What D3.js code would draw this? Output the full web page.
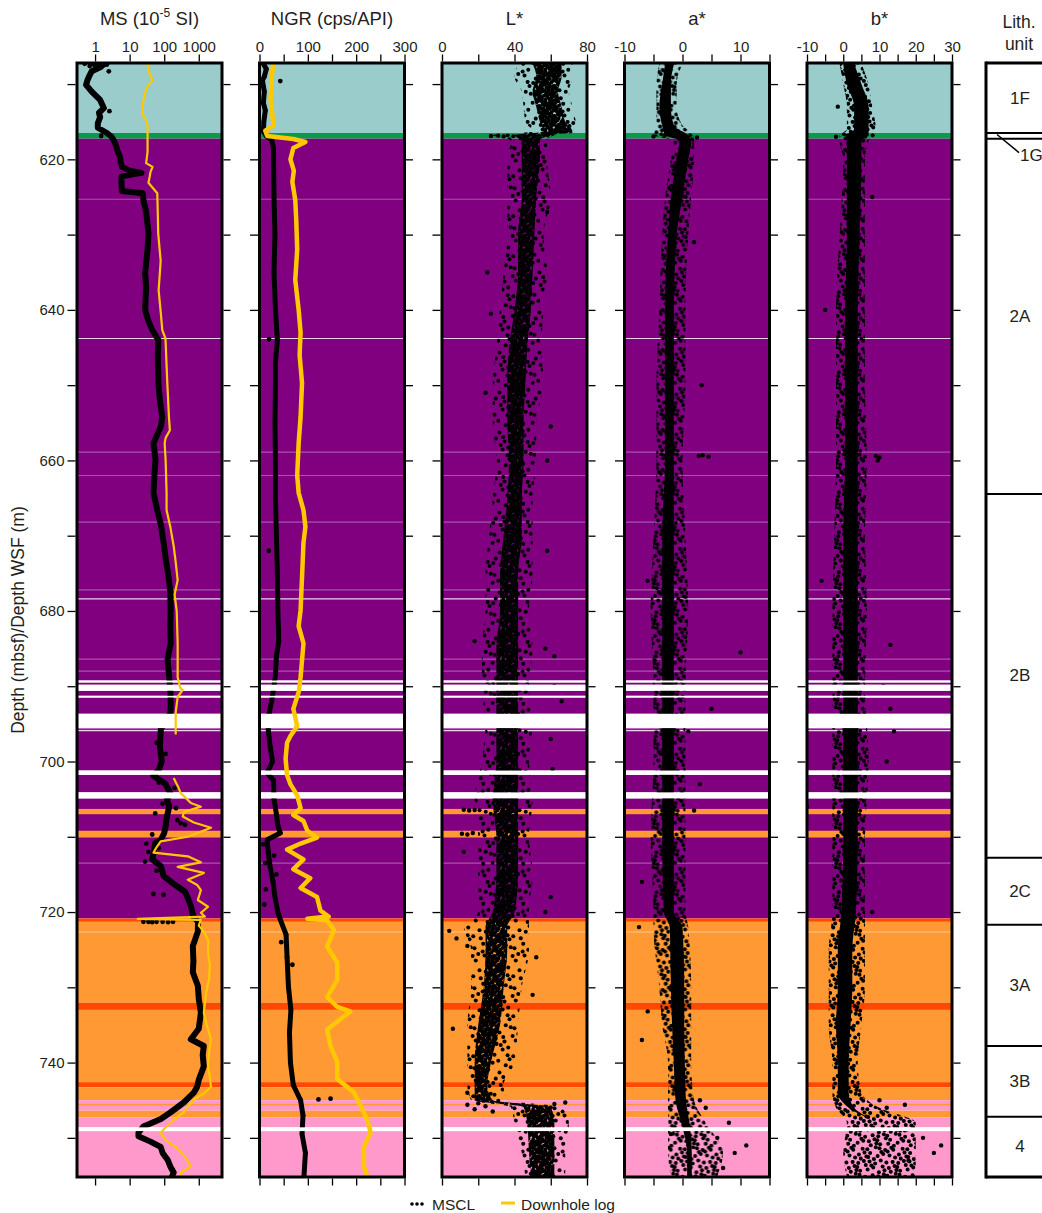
<!DOCTYPE html>
<html><head><meta charset="utf-8">
<script src="https://cdn.jsdelivr.net/npm/d3@7"></script>
<style>
body{margin:0;background:#fff}
svg{display:block}
text{font-family:"Liberation Sans",Arial,Helvetica,sans-serif;fill:#231f20}
</style>
</head><body>
<svg id="c" width="1042" height="1213"></svg>
<script>
// ---------------- DATA ----------------
const depthDomain = [607.2, 755.2];
const depthTicks = d3.range(610, 751, 10);
const depthLabels = [620, 640, 660, 680, 700, 720, 740];

const msDomain = [0.3, 4700];
const msTicks = [1, 10, 100, 1000];
const ngrDomain = [0, 300];
const ngrTicks = [0, 50, 100, 150, 200, 250, 300];
const ngrLabels = [0, 100, 200, 300];
const lDomain = [0, 80];
const lTicks = [0, 20, 40, 60, 80];
const lLabels = [0, 40, 80];
const aDomain = [-10, 15];
const aTicks = [-10, -5, 0, 5, 10, 15];
const aLabels = [-10, 0, 10];
const bDomain = [-10, 30];
const bTicks = [-10, -5, 0, 5, 10, 15, 20, 25, 30];
const bLabels = [-10, 0, 10, 20, 30];

// background lithology / core intervals [top, bottom, class]
const bgIntervals = [
  [607.2,616.5,"teal"],[616.5,617.25,"green"],[617.25,720.85,"purple"],[720.85,721.3,"red"],
  [721.3,732.05,"orange"],[732.05,733.0,"red"],[733.0,742.6,"orange"],[742.6,743.3,"red"],
  [743.3,745.0,"orange"],[745.0,745.4,"pink"],[745.4,745.75,"orange"],[745.75,746.4,"pink"],
  [746.4,747.3,"orange"],[747.3,755.2,"pink"],
  [689.24,689.5,"gap"],[689.8,690.6,"gap"],[691.27,691.5,"gap"],[693.66,695.56,"gap"],
  [701.2,701.77,"gap"],[704.1,704.9,"gap"],[706.3,707.0,"orange"],[709.2,710.1,"orange"],
  [748.6,749.1,"gap"]
];
const bgLines = [
  [625.3,"pale"],[643.8,"bright"],[658.9,"pale"],[662.0,"pale"],[668.2,"pale"],[677.2,"pale"],
  [678.4,"bright"],[686.4,"pale"],[688.0,"pale"],[695.65,"pinkline"],[695.9,"bright"],
  [713.5,"pale"],[722.65,"lightorange"]
];

// MS (10^-5 SI): MSCL and downhole log [depth, value]
const msMSCL = [
[607.3,0.9],[607.7,1.5],[608.3,0.8],[608.8,0.7],[609.5,0.6],[610.1,0.55],[611.0,0.8],[612.1,1.4],[613.2,1.8],
[613.8,1.3],[614.4,1.4],[615.2,1.2],[615.8,1.2],[616.5,2.2],[617.0,3.0],[617.4,3.4],[618.1,4.0],[618.8,4.4],
[619.7,5.3],[620.3,5.5],[621.0,6.0],[621.5,10],[621.8,22],[622.0,12],[622.3,5.8],[623.1,5.8],[624.2,6.0],
[624.5,24],[625.4,25],[627.0,30],[629.8,35],[632.0,33],[635.1,28],[637.0,30],[640.0,28],[641.5,35],
[642.7,45],[644.0,68],[646.0,65],[649.7,68],[652.0,75],[654.2,88],[655.5,80],[656.8,60],[657.7,49],
[659.9,56],[662.0,52],[664.3,49],[666.6,63],[668.5,80],[670.9,96],[673.0,110],[675.5,134],[677.5,150],
[679.9,154],[682.0,150],[684.3,154],[686.5,125],[688.8,140],[690.5,150],[692.5,155],[693.6,150],
[695.7,80],[698.0,75],[700.0,85],[701.1,70],[701.9,48],[703.0,110],[704.2,150],[705.1,120],[706.0,140],
[707.3,120],[708.6,110],[709.5,100],[710.4,80],[710.8,55],[712.1,50],[713.0,45],[713.9,80],[715.2,96],
[716.2,180],[717.3,400],[718.3,500],[719.2,590],[720.0,650],[720.6,700],[721.3,950],[722.6,940],
[724.5,673],[726.5,700],[728.0,673],[729.8,940],[731.5,1000],[733.4,1150],[735.5,1000],[736.9,590],
[737.8,1400],[739.0,1300],[740.5,1400],[742.3,1000],[743.2,900],[744.0,720],[745.3,368],[746.6,154],
[747.5,80],[748.5,25],[749.3,18],[749.8,18],[750.5,40],[751.2,79],[752.0,90],[752.9,125],[753.8,150],
[754.6,188],[755.1,170]
];
const msOut = [
[607.3,0.5],[607.4,2.2],[607.5,1.8],[607.6,0.7],[608.3,2.5],[613.6,2.6],[616.9,1.5],
[697.5,60],[699.0,110],[702.8,70],[703.5,200],[705.6,90],[706.2,220],[706.9,55],[707.8,240],[708.2,300],
[708.4,400],[709.7,45],[710.9,30],[711.5,70],[712.0,35],[713.3,28],[714.5,60],[717.6,49],[717.7,96],
[721.3,25],[721.3,35],[721.35,45],[721.3,60],[721.3,90],[721.35,130],[721.3,180]
];
const msLog = [
[607.3,33],[608.2,35],[609.5,46],[610.3,33],[611.2,28],[612.1,25],[613.3,24],[614.0,23],[614.8,30],
[615.5,33],[616.5,33],[617.4,33],[619.0,33],[620.5,30],[621.0,46],[621.7,40],[622.3,38],[623.1,35],
[624.5,63],[627.0,65],[629.8,67],[633.5,79],[637.4,69],[640.5,80],[642.7,88],[643.8,109],[646.5,115],
[649.7,123],[654.2,137],[656.0,146],[657.0,110],[657.7,103],[660.0,110],[664.3,117],[666.6,117],
[668.8,150],[671.4,188],[673.5,215],[675.9,245],[677.8,200],[680.0,230],[684.3,245],[688.8,245],
[690.2,290],[690.5,344],[691.4,245],[693.5,215],[696.4,215],[null,null],
[702.2,188],[703.5,260],[704.2,300],[705.5,590],[706.0,1150],[706.7,370],[707.3,344],[708.1,720],
[708.8,2260],[710.0,480],[710.6,79],[711.4,60],[712.1,49],[712.6,480],[713.4,1150],[714.0,245],
[714.8,1400],[715.7,480],[716.4,900],[717.1,1150],[718.4,940],[719.3,1850],[720.1,1150],[720.6,1500],
[720.9,17],[721.05,1150],[721.8,1000],[722.6,1400],[723.8,1900],[725.3,1850],[727.0,2100],[728.9,1980],
[731.0,1600],[733.4,1400],[735.0,1700],[736.9,2260],[738.5,2000],[740.5,1850],[742.0,2100],[743.2,2260],
[744.0,1500],[744.9,720],[745.8,500],[746.6,368],[747.5,200],[748.5,117],[749.3,79],[750.3,110],
[751.2,215],[752.5,400],[753.8,590],[754.6,300],[755.1,280]
];

// NGR (cps/API)
const ngrMSCL = [
[607.3,8],[608.0,14],[609.0,10],[609.5,6],[611.0,10],[612.5,8],[613.5,12],[615.0,9],[616.3,8],[616.9,14],
[617.4,25],[618.5,29],[620.0,29],[625.0,30],[630.0,32],[635.0,30],[640.0,33],[644.0,37],[647.0,33],
[650.0,33],[655.0,32],[660.0,33],[665.0,33],[670.0,35],[675.0,37],[680.0,38],[684.0,40],[686.0,35],
[688.5,33],[690.0,30],[692.0,25],[693.6,20],[695.7,18],[698.0,22],[700.0,27],[701.5,16],[702.5,29],
[705.0,30],[707.0,35],[708.5,38],[709.5,43],[710.4,16],[712.0,18],[714.0,22],[716.0,28],[718.0,32],
[720.0,38],[721.0,43],[723.0,55],[726.0,57],[730.0,60],[733.0,65],[736.0,62],[740.0,64],[743.0,70],
[745.0,85],[747.0,90],[749.5,88],[752.0,95],[755.1,92]
];
const ngrOut = [[609.6,43],[643.9,20],[672.0,19],[711.0,8],[712.5,30],[713.5,12],[715.0,35],[717.0,13],
[719.0,10],[724.0,45],[727.0,68],[744.9,122],[744.8,147]];
const ngrLog = [
[607.3,29],[608.0,27],[609.7,25],[612.0,23],[614.4,27],[615.5,29],[616.2,12],[616.9,16],[617.3,70],
[617.7,95],[618.5,70],[620.0,64],[621.5,71],[623.0,68],[625.4,74],[628.0,76],[632.0,78],[636.0,74],
[640.0,81],[643.0,85],[646.0,83],[649.7,88],[654.2,85],[657.7,81],[662.0,78],[664.3,81],[666.6,91],
[668.8,95],[670.9,91],[675.5,88],[679.9,85],[682.0,81],[684.3,91],[688.8,85],[690.8,81],[693.0,70],
[695.3,78],[696.6,64],[697.5,57],[699.6,54],[701.8,57],[703.0,64],[704.5,78],[706.2,85],[707.1,70],
[707.9,91],[709.2,99],[710.1,119],[710.9,85],[711.7,57],[713.0,91],[714.3,70],[715.5,105],[716.8,85],
[718.0,119],[719.8,126],[720.6,143],[720.9,99],[721.1,140],[722.4,154],[724.6,140],[726.7,161],
[729.0,161],[731.3,140],[732.6,161],[733.2,188],[734.2,168],[735.6,140],[737.8,147],[739.9,161],
[742.2,161],[743.9,195],[745.7,209],[747.6,223],[749.3,230],[751.2,216],[753.8,216],[755.1,223]
];

// Colour reflectance MSCL clouds: [depth, coreLo, coreHi, spreadLo, spreadHi]
const lStar = [
[607.3,50,66,42,72],[609,52,66,40,72],[611,50,64,44,70],[613,52,66,45,72],[615,54,68,46,74],
[616.3,56,72,50,76],[616.8,40,60,28,62],[617.5,44,54,38,58],[620,44,54,36,58],[625,44,52,36,60],
[630,42,51,36,56],[635,42,50,34,58],[640,40,49,32,56],[645,37,47,30,55],[650,36,46,28,56],
[655,36,45,28,52],[660,37,45,30,52],[665,36,44,28,50],[670,34,44,26,50],[675,32,42,24,50],
[680,32,42,24,48],[685,30,42,22,50],[690,30,42,22,48],[695,30,42,24,50],[700,30,42,22,48],
[705,28,42,18,50],[710,30,42,20,48],[715,30,42,20,50],[720,28,40,20,48],[722,24,36,12,48],
[725,24,36,16,48],[730,23,34,16,44],[735,20,32,14,42],[740,18,27,14,40],[743,18,25,14,34],
[745,18,28,16,36],[745.9,45,60,38,66],[748,47,62,40,70],[752,48,62,44,68],[755.1,49,62,46,68]
];
const aStar = [
[607.3,-3,-1.5,-4,0],[610,-3.5,-2,-4.5,-1],[613,-4,-2,-4.5,-1],[615.5,-3.5,-1.5,-4.5,0],
[616.8,-3,1,-5,2],[617.5,-0.5,1.5,-1.5,2],[620,-1,1,-2,2],[625,-2,0,-3,1.5],[630,-2.5,-1,-3.5,1],
[640,-3,-1.5,-4,0.5],[650,-3,-1.5,-4.5,0.5],[660,-3,-1.5,-4.5,0],[670,-3.5,-1.5,-5,0.5],
[680,-3.5,-1.5,-5.5,1],[690,-3.5,-1.5,-5,0.5],[700,-3.5,-1.5,-5,0.5],[710,-3.5,-1.5,-5.5,0.5],
[720,-3.2,-1.5,-5,0.5],[722,-2.2,0,-5,1],[730,-2,0.3,-4,1.5],[735,-1.8,0.3,-3.5,1.5],[740,-1.5,0.4,-2.5,1.5],
[745,-1.2,0.6,-2.5,2],[748,-0.2,1.2,-2.5,4],[752,0.8,1.6,-2.5,7],[755.1,0.8,1.6,-2,6]
];
const bStar = [
[607.3,0,3,-1,5],[610,1,5,0,7],[613,3,7,1,8],[616,3,7,1,9],[616.8,1,7,-1,9],[617.5,1,5,-1,7],
[620,1,5,0,6],[630,1,4.5,-1,6],[640,0.5,4,-2,6],[650,0.5,4,-2,6],[660,0.5,4,-2,6.5],[670,0,4,-2.5,6],
[680,0,4,-3,6.5],[690,0,4,-3,6],[700,0,4,-3,7],[710,0,4,-3,6],[720,-0.5,3.5,-3,6],[725,-1.5,2.5,-4,6],
[730,-1.5,2.5,-4,6],[735,-2,2,-4,5],[740,-1.5,1.5,-3,4],[744,-1.5,1.5,-3,5],[746,1.5,3,-2,10],[748,8,8,1,20],
[752,9,9,0,20],[755.1,8,8,1,20]
];
const lOut = [
[616.9,27],[616.85,31],[616.95,34],[627,58],[635,25],[640.5,27],[651,24],[655.5,60],[660,58],[672,58],
[684,18],[685,57],[686,62],[690,62],[692,66],[697,60],[701,61],[706.4,12],[706.5,15],[706.45,18],
[709.6,11],[709.7,14],[709.5,17],[712,12],[718,60],[720,57],[722.5,4],[723.5,8],[724.5,14],[726,52],
[731,50],[735.5,6],[737.5,30],[744,14],[745.4,20],[745.6,14],[745.8,24],[746.2,18],[746.5,28],
[745.5,62],[745.3,68]
];
const aOut = [
[616.95,-5],[617.1,2.5],[631,2],[650,3.3],[659.3,3.5],[659.5,4.5],[659.4,2.8],[676,-6],[685.5,10],
[693,5],[696,1],[703,3],[706.5,2],[716,-7],[722,-7.5],[733.2,-6],[737,-7],[745,3],[746,4],[748,8],
[750,6],[752,9],[754,7],[749.5,-2],[751,11]
];
const bOut = [
[613,-1.5],[617,-2],[625,8],[640,-5],[659.4,9],[659.6,10],[660,9.5],[676,-6],[684.5,13],[690,11],
[693,13],[696,14],[700,12],[706,-10],[720,8],[745,10],[745.6,17],[746,12],[750,22],[752,25],[753,18],
[751,27],[749,17]
];

const lithUnits = [
["1F",607.2,616.5],["1G",616.5,617.25],["2A",617.25,664.45],["2B",664.45,712.8],
["2C",712.8,721.7],["3A",721.7,737.8],["3B",737.8,747.2],["4",747.2,755.2]
];

// ---------------- STYLE ----------------
const bgColor = {teal:"#9acccc",green:"#0a9a48",purple:"#800080",red:"#ff4800",orange:"#ff9933",pink:"#ff99cc",gap:"#ffffff"};
const lineColor = {pale:"#a456aa",bright:"#e8d2e8",pinkline:"#c868ca",lightorange:"#ffc890"};
const YELLOW = "#ffc800";
const FONT_TICK = "15px", FONT_TITLE = "18.5px";

const svg = d3.select("#c");
const defs = svg.append("defs");
// stippled fill tiles (low-discrepancy dot placement, purely a texture style)
function halton(i, b){ let f=1, r=0; while(i>0){ f/=b; r+=f*(i%b); i=Math.floor(i/b);} return r; }
function dotTile(id, size, n, r){
  const p = defs.append("pattern").attr("id",id).attr("patternUnits","userSpaceOnUse")
    .attr("width",size).attr("height",size);
  for (let k=1;k<=n;k++){
    const cx = halton(k+7,2)*size, cy = halton(k+7,3)*size;
    for (const dx of [-size,0,size]) for (const dy of [-size,0,size])
      p.append("circle").attr("cx",cx+dx).attr("cy",cy+dy).attr("r",r).attr("fill","#000");
  }
}
dotTile("sparse", 40, 30, 2.0);
dotTile("medium", 40, 60, 2.0);
dotTile("dense", 30, 125, 2.0);

const TOP = 63, BOT = 1177, PW = 145;
const y = d3.scaleLinear().domain(depthDomain).range([TOP, BOT]);

function cloud(data, outl, outerFill, innerFill){
  return (body, x) => {
    const outer = d3.area().y(d=>y(d[0])).x0(d=>x(d[3])).x1(d=>x(d[4])).curve(d3.curveMonotoneY);
    const inner = d3.area().y(d=>y(d[0])).x0(d=>x(d[1])).x1(d=>x(d[2])).curve(d3.curveMonotoneY);
    body.append("path").attr("d",outer(data)).attr("fill",outerFill);
    body.append("path").attr("d",inner(data)).attr("fill",innerFill);
    body.selectAll("circle.o").data(outl).join("circle").attr("class","o")
      .attr("cx",d=>x(d[1])).attr("cy",d=>y(d[0])).attr("r",2.2).attr("fill","#000");
  };
}
function mscl(data, outl, w){
  return (body, x) => {
    const line = d3.line().x(d=>x(d[1])).y(d=>y(d[0]));
    body.append("path").attr("d",line(data)).attr("fill","none").attr("stroke","#000")
      .attr("stroke-width",w).attr("stroke-linejoin","round").attr("stroke-linecap","round");
    body.selectAll("circle.m").data(data.concat(outl)).join("circle").attr("class","m")
      .attr("cx",d=>x(d[1])).attr("cy",d=>y(d[0])).attr("r",2.4).attr("fill","#000");
  };
}
function logLine(data, w){
  return (body, x) => {
    const line = d3.line().defined(d=>d[0]!=null).x(d=>x(d[1])).y(d=>y(d[0]));
    body.append("path").attr("d",line(data)).attr("fill","none").attr("stroke",YELLOW)
      .attr("stroke-width",w).attr("stroke-linejoin","round");
  };
}

const panels = [
  {title:"MS", scale:d3.scaleLog().domain(msDomain), ticks:msTicks, labels:msTicks,
   draw:mscl(msMSCL, msOut, 6), log:logLine(msLog, 2.2)},
  {title:"NGR (cps/API)", scale:d3.scaleLinear().domain(ngrDomain), ticks:ngrTicks, labels:ngrLabels,
   draw:mscl(ngrMSCL, ngrOut, 5), log:logLine(ngrLog, 4.5)},
  {title:"L*", scale:d3.scaleLinear().domain(lDomain), ticks:lTicks, labels:lLabels,
   draw:cloud(lStar, lOut, "url(#sparse)", "url(#dense)")},
  {title:"a*", scale:d3.scaleLinear().domain(aDomain), ticks:aTicks, labels:aLabels,
   draw:cloud(aStar, aOut, "url(#medium)", "#000")},
  {title:"b*", scale:d3.scaleLinear().domain(bDomain), ticks:bTicks, labels:bLabels,
   draw:cloud(bStar, bOut, "url(#medium)", "#000")}
];

function styleAxis(g){
  g.select(".domain").remove();
  g.selectAll(".tick line").attr("stroke","#000").attr("stroke-width",1.3);
  g.selectAll(".tick text").attr("font-size",FONT_TICK).attr("fill","#231f20")
    .attr("font-family",'"Liberation Sans",Arial,sans-serif');
}

panels.forEach((p,i)=>{
  const left = 77 + i*182.5;
  const g = svg.append("g").attr("transform",`translate(${left},0)`);
  const x = p.scale.range([0,PW]);
  const cid = "clip"+i;
  defs.append("clipPath").attr("id",cid).append("rect")
    .attr("x",0).attr("y",TOP).attr("width",PW).attr("height",BOT-TOP);
  const body = g.append("g").attr("clip-path",`url(#${cid})`);

  body.selectAll("rect.bg").data(bgIntervals).join("rect").attr("class","bg")
    .attr("x",0).attr("width",PW).attr("y",d=>y(d[0]))
    .attr("height",d=>Math.max(0.6,y(d[1])-y(d[0]))).attr("fill",d=>bgColor[d[2]]);
  body.selectAll("line.bl").data(bgLines).join("line").attr("class","bl")
    .attr("x1",0).attr("x2",PW).attr("y1",d=>y(d[0])).attr("y2",d=>y(d[0]))
    .attr("stroke",d=>lineColor[d[1]]).attr("stroke-width",1.2);

  p.draw(body, x);

  body.selectAll("rect.gapc").data(bgIntervals.filter(d=>d[2]==="gap")).join("rect").attr("class","gapc")
    .attr("x",0).attr("width",PW).attr("y",d=>y(d[0]))
    .attr("height",d=>Math.max(0.6,y(d[1])-y(d[0]))).attr("fill","#fff");

  if (p.log) p.log(body, x);

  g.append("rect").attr("x",0).attr("y",TOP).attr("width",PW).attr("height",BOT-TOP)
    .attr("fill","none").attr("stroke","#000").attr("stroke-width",3);

  const fmt = d => p.labels.includes(d) ? String(d) : "";
  g.append("g").attr("transform",`translate(0,${TOP-1.5})`)
    .call(d3.axisTop(x).tickValues(p.ticks).tickSize(7).tickPadding(3).tickFormat(fmt)).call(styleAxis);
  g.append("g").attr("transform",`translate(0,${BOT+1.5})`)
    .call(d3.axisBottom(x).tickValues(p.ticks).tickSize(7).tickFormat(()=>"")).call(styleAxis);
  g.append("g").attr("transform",`translate(-1.5,0)`)
    .call(d3.axisLeft(y).tickValues(depthTicks).tickSize(8).tickPadding(3)
      .tickFormat(d => (i===0 && depthLabels.includes(d)) ? String(d) : "")).call(styleAxis);
  g.append("g").attr("transform",`translate(${PW+1.5},0)`)
    .call(d3.axisRight(y).tickValues(depthTicks).tickSize(7).tickFormat(()=>"")).call(styleAxis);

  const t = g.append("text").attr("x",PW/2).attr("y",25).attr("text-anchor","middle")
    .attr("font-size",FONT_TITLE);
  if (i===0){
    t.append("tspan").text("MS (10");
    t.append("tspan").attr("font-size","12px").attr("dy",-8).text("-5");
    t.append("tspan").attr("dy",8).text(" SI)");
  } else t.text(p.title);
});

// y axis title
svg.append("text").attr("transform","translate(18,620) rotate(-90)")
  .attr("text-anchor","middle").attr("dominant-baseline","central")
  .attr("font-size","17.5px").text("Depth (mbsf)/Depth WSF (m)");

// Lithologic unit column
const lith = svg.append("g");
const LX = 986;
lith.append("line").attr("x1",LX).attr("x2",LX).attr("y1",TOP-1.5).attr("y2",BOT+1.5)
  .attr("stroke","#000").attr("stroke-width",3);
[TOP,BOT].forEach(v=>lith.append("line").attr("x1",LX).attr("x2",1060).attr("y1",v).attr("y2",v)
  .attr("stroke","#000").attr("stroke-width",3));
lith.selectAll("line.b").data(lithUnits.slice(1)).join("line").attr("class","b")
  .attr("x1",LX).attr("x2",1060).attr("y1",d=>y(d[1])).attr("y2",d=>y(d[1]))
  .attr("stroke","#000").attr("stroke-width",2);
lithUnits.forEach(d=>{
  const thin = (d[2]-d[1]) < 2;
  if (thin){
    lith.append("line").attr("x1",997).attr("y1",y(d[1])+1.5).attr("x2",1019).attr("y2",y(d[2])+14)
      .attr("stroke","#000").attr("stroke-width",1.5);
    lith.append("text").attr("x",1020).attr("y",y(d[2])+22).attr("font-size","17px").text(d[0]);
  } else {
    lith.append("text").attr("x",1020).attr("y",(y(d[1])+y(d[2]))/2).attr("text-anchor","middle")
      .attr("dominant-baseline","central").attr("font-size","17px").text(d[0]);
  }
});
lith.append("text").attr("x",1019).attr("y",28).attr("text-anchor","middle").attr("font-size","17.5px").text("Lith.");
lith.append("text").attr("x",1019).attr("y",50).attr("text-anchor","middle").attr("font-size","17.5px").text("unit");

// Legend
const leg = svg.append("g");
leg.selectAll("circle").data([0,1,2]).join("circle").attr("cx",d=>412+d*5).attr("cy",1204).attr("r",1.8).attr("fill","#000");
leg.append("text").attr("x",432).attr("y",1210).attr("font-size","15.5px").text("MSCL");
leg.append("line").attr("x1",501).attr("x2",515).attr("y1",1203).attr("y2",1203).attr("stroke",YELLOW).attr("stroke-width",3);
leg.append("text").attr("x",521).attr("y",1210).attr("font-size","15.5px").text("Downhole log");
</script>
</body></html>
